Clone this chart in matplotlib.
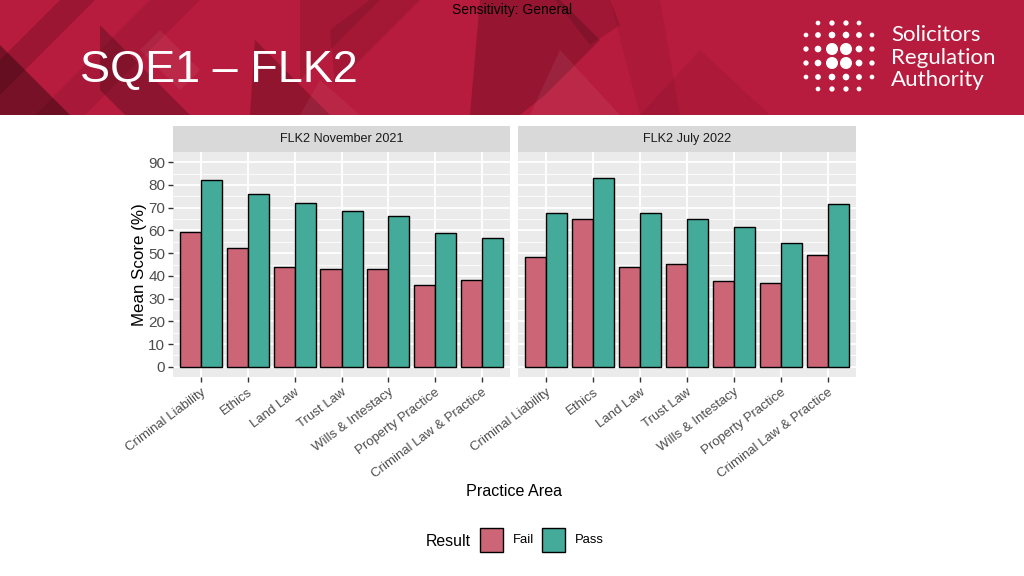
import matplotlib
matplotlib.use("Agg")
import matplotlib.pyplot as plt
from matplotlib.patches import Rectangle, Polygon
import numpy as np

plt.rcParams['font.family'] = ['Liberation Sans', 'DejaVu Sans']

# ---------------- data ----------------
categories = ["Criminal Liability", "Ethics", "Land Law", "Trust Law",
              "Wills & Intestacy", "Property Practice", "Criminal Law & Practice"]
panels = ["FLK2 November 2021", "FLK2 July 2022"]
fail_nov21 = [59.5, 52.3, 44.0, 43.0, 43.0, 35.8, 38.2]
pass_nov21 = [82.2, 75.9, 72.1, 68.7, 66.2, 58.9, 56.5]
fail_jul22 = [48.2, 64.9, 44.0, 45.1, 37.6, 36.7, 49.0]
pass_jul22 = [67.8, 83.2, 67.7, 65.2, 61.5, 54.5, 71.6]
y_ticks = [0, 10, 20, 30, 40, 50, 60, 70, 80, 90]
legend_labels = ["Fail", "Pass"]

FAIL_C = "#CC6677"
PASS_C = "#44AA99"
W, H = 1024, 576

fig = plt.figure(figsize=(W / 100, H / 100), dpi=100)
fig.patch.set_facecolor("white")

def px(x0, y0, x1, y1):
    return [x0 / W, 1 - y1 / H, (x1 - x0) / W, (y1 - y0) / H]

# ---------------- banner ----------------
bg = fig.add_axes([0, 0, 1, 1], zorder=-5)
bg.set_xlim(0, W)
bg.set_ylim(H, 0)
bg.axis("off")
bg.add_patch(Rectangle((0, 0), W, 115, color="#B71B3D", lw=0))
dark_polys = [
    ([(0, 45), (70, 115), (0, 115)], 0.35),
    ([(60, 0), (95, 0), (0, 95), (0, 60)], 0.15),
    ([(100, 25), (190, 115), (125, 115), (100, 90)], 0.22),
    ([(150, 0), (200, 0), (85, 115), (35, 115)], 0.08),
    ([(255, 40), (330, 115), (250, 115)], 0.20),
    ([(300, 0), (380, 0), (300, 80)], 0.10),
    ([(330, 30), (370, 0), (420, 0), (335, 85)], 0.10),
    ([(480, 0), (560, 0), (600, 40), (545, 95), (520, 115), (470, 115)], 0.18),
    ([(555, 0), (610, 0), (620, 25), (590, 45)], 0.12),
    ([(610, 0), (660, 0), (680, 115), (640, 115)], 0.06),
    ([(700, 50), (770, 115), (640, 115)], 0.05),
]
for pts, a in dark_polys:
    bg.add_patch(Polygon(pts, closed=True, color="black", alpha=a, lw=0))
light_polys = [
    ([(160, 30), (200, 70), (180, 90), (140, 50)], 0.06),
    ([(560, 50), (620, 115), (530, 115)], 0.06),
    ([(320, 80), (360, 115), (300, 115)], 0.05),
]
for pts, a in light_polys:
    bg.add_patch(Polygon(pts, closed=True, color="white", alpha=a, lw=0))

bg.text(512, 10, "Sensitivity: General", ha="center", va="center",
        fontsize=10, color="black")
bg.text(80, 71, "SQE1 \u2013 FLK2", ha="left", va="center",
        fontsize=32.4, color="white")

# logo dots
cols6 = [806, 818, 832, 846, 859, 872]
cols4 = [818, 832, 846, 859]
rows_y = [23, 35, 49, 63, 77, 89]
cx, cy = 839, 56
for i, yy in enumerate(rows_y):
    xs = cols4 if i in (0, 5) else cols6
    for xx in xs:
        d = np.hypot(xx - cx, yy - cy)
        r = 6.0 if d < 12 else max(2.1, 4.6 - 0.058 * d)
        bg.add_patch(plt.Circle((xx, yy), r, color="white", lw=0))
for k, t in enumerate(["Solicitors", "Regulation", "Authority"]):
    bg.text(891, 35 + k * 22.5, t, ha="left", va="center",
            fontsize=16, color="white", family=["Lato", "DejaVu Sans"])

# ---------------- panels ----------------
panel_px = [(173, 510), (518, 856)]
data = [(fail_nov21, pass_nov21), (fail_jul22, pass_jul22)]
x = np.arange(len(categories))
for p, ((x0, x1), (fv, pv), title) in enumerate(zip(panel_px, data, panels)):
    ax = fig.add_axes(px(x0, 152, x1, 377))
    ax.set_facecolor("#EBEBEB")
    ax.set_xlim(-0.6, len(categories) - 0.4)
    ax.set_ylim(-4.5, 94.5)
    for yv in np.arange(5, 95, 10):
        ax.axhline(yv, color="white", lw=0.6, zorder=0)
    for yv in y_ticks:
        ax.axhline(yv, color="white", lw=1.3, zorder=0)
    for xv in x:
        ax.axvline(xv, color="white", lw=1.3, zorder=0)
    ax.bar(x - 0.225, fv, width=0.45, color=FAIL_C, edgecolor="black",
           lw=1.0, zorder=2)
    ax.bar(x + 0.225, pv, width=0.45, color=PASS_C, edgecolor="black",
           lw=1.0, zorder=2)
    for s in ax.spines.values():
        s.set_visible(False)
    ax.set_xticks(x)
    ax.set_xticklabels(categories, rotation=37, ha="right",
                       rotation_mode="anchor", fontsize=9.5, color="#4D4D4D")
    ax.tick_params(axis="x", length=3.5, width=1.0, color="#333333", pad=3)
    ax.set_yticks(y_ticks)
    if p == 0:
        ax.set_yticklabels([str(v) for v in y_ticks], fontsize=11,
                           color="#4D4D4D")
        ax.tick_params(axis="y", length=3.5, width=1.0, color="#333333", pad=2)
        ax.set_ylabel("Mean Score (%)", fontsize=12.2, color="black",
                      labelpad=1)
    else:
        ax.tick_params(axis="y", length=0, labelleft=False)
    sax = fig.add_axes(px(x0, 126, x1, 152))
    sax.set_facecolor("#D9D9D9")
    sax.set_xticks([])
    sax.set_yticks([])
    for s in sax.spines.values():
        s.set_visible(False)
    sax.text(0.5, 0.5, title, ha="center", va="center", fontsize=9.1,
             color="#1A1A1A", transform=sax.transAxes)

bg.text(514, 491, "Practice Area", ha="center", va="center",
        fontsize=11.6, color="black")

# legend
bg.text(448, 541, "Result", ha="center", va="center", fontsize=11.4,
        color="black")
for (lx, tx, lab, col) in [(480, 513, legend_labels[0], FAIL_C),
                            (542, 575, legend_labels[1], PASS_C)]:
    bg.add_patch(Rectangle((lx, 528), 23, 24, facecolor=col,
                           edgecolor="black", lw=1.0))
    bg.text(tx, 540, lab, ha="left", va="center", fontsize=9.4,
            color="black")

fig.savefig("out.png", dpi=100)
